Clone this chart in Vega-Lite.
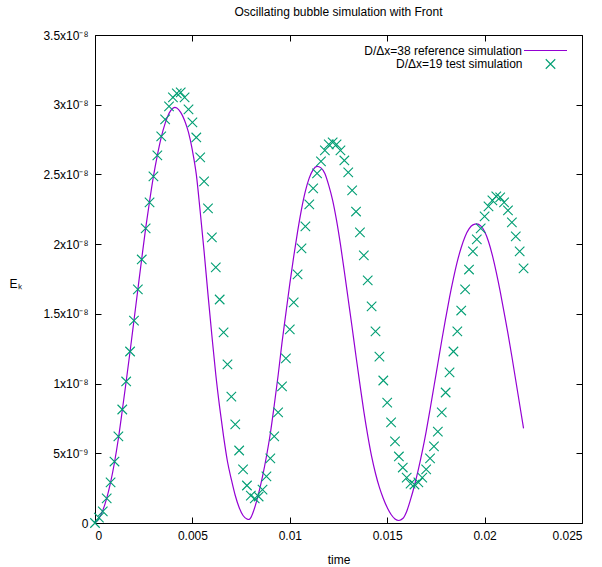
{
  "$schema": "https://vega.github.io/schema/vega-lite/v6.json",
  "width": 487,
  "height": 488,
  "autosize": {"type": "none"},
  "padding": {"left": 95, "top": 35, "right": 20, "bottom": 44},
  "background": "white",
  "title": {"text": "Oscillating bubble simulation with Front", "fontSize": 12, "fontWeight": "normal", "font": "Liberation Sans", "color": "black", "offset": 9, "anchor": "middle"},
  "config": {
    "view": {"stroke": "black", "strokeWidth": 1},
    "font": "Liberation Sans",
    "axis": {"domain": false, "grid": false, "tickColor": "black", "tickWidth": 1, "tickSize": -6, "labelFont": "Liberation Sans", "labelFontSize": 12, "labelColor": "black", "titleFont": "Liberation Sans", "titleFontSize": 12, "titleFontWeight": "normal", "titleColor": "black"},
    "legend": {"labelFont": "Liberation Sans", "labelFontSize": 12, "labelColor": "black", "padding": 0}
  },
  "datasets": {
    "reference": [
      {"time": 0, "Ek": 0},
      {"time": 0.0002, "Ek": 0.032e-8},
      {"time": 0.0004, "Ek": 0.090e-8},
      {"time": 0.0006, "Ek": 0.176e-8},
      {"time": 0.0008, "Ek": 0.291e-8},
      {"time": 0.0010, "Ek": 0.434e-8},
      {"time": 0.0012, "Ek": 0.606e-8},
      {"time": 0.0014, "Ek": 0.807e-8},
      {"time": 0.0016, "Ek": 1.015e-8},
      {"time": 0.0018, "Ek": 1.230e-8},
      {"time": 0.0020, "Ek": 1.452e-8},
      {"time": 0.0022, "Ek": 1.675e-8},
      {"time": 0.0024, "Ek": 1.897e-8},
      {"time": 0.0026, "Ek": 2.113e-8},
      {"time": 0.0028, "Ek": 2.306e-8},
      {"time": 0.0030, "Ek": 2.486e-8},
      {"time": 0.0032, "Ek": 2.637e-8},
      {"time": 0.0034, "Ek": 2.766e-8},
      {"time": 0.0036, "Ek": 2.866e-8},
      {"time": 0.0038, "Ek": 2.938e-8},
      {"time": 0.0040, "Ek": 2.974e-8},
      {"time": 0.0041, "Ek": 2.981e-8},
      {"time": 0.0042, "Ek": 2.977e-8},
      {"time": 0.0044, "Ek": 2.945e-8},
      {"time": 0.0046, "Ek": 2.887e-8},
      {"time": 0.0048, "Ek": 2.801e-8},
      {"time": 0.0050, "Ek": 2.672e-8},
      {"time": 0.0052, "Ek": 2.500e-8},
      {"time": 0.0054, "Ek": 2.234e-8},
      {"time": 0.0056, "Ek": 1.948e-8},
      {"time": 0.0058, "Ek": 1.640e-8},
      {"time": 0.0060, "Ek": 1.345e-8},
      {"time": 0.0062, "Ek": 1.065e-8},
      {"time": 0.0064, "Ek": 0.829e-8},
      {"time": 0.0066, "Ek": 0.621e-8},
      {"time": 0.0068, "Ek": 0.441e-8},
      {"time": 0.0070, "Ek": 0.312e-8},
      {"time": 0.0072, "Ek": 0.197e-8},
      {"time": 0.0074, "Ek": 0.111e-8},
      {"time": 0.0076, "Ek": 0.054e-8},
      {"time": 0.0078, "Ek": 0.029e-8},
      {"time": 0.0079, "Ek": 0.025e-8},
      {"time": 0.0080, "Ek": 0.039e-8},
      {"time": 0.0082, "Ek": 0.111e-8},
      {"time": 0.0084, "Ek": 0.212e-8},
      {"time": 0.0086, "Ek": 0.334e-8},
      {"time": 0.0088, "Ek": 0.477e-8},
      {"time": 0.0090, "Ek": 0.642e-8},
      {"time": 0.0092, "Ek": 0.843e-8},
      {"time": 0.0094, "Ek": 1.058e-8},
      {"time": 0.0096, "Ek": 1.294e-8},
      {"time": 0.0098, "Ek": 1.505e-8},
      {"time": 0.0100, "Ek": 1.715e-8},
      {"time": 0.0102, "Ek": 1.910e-8},
      {"time": 0.0104, "Ek": 2.090e-8},
      {"time": 0.0106, "Ek": 2.250e-8},
      {"time": 0.0108, "Ek": 2.380e-8},
      {"time": 0.0110, "Ek": 2.475e-8},
      {"time": 0.0112, "Ek": 2.535e-8},
      {"time": 0.0114, "Ek": 2.558e-8},
      {"time": 0.0116, "Ek": 2.547e-8},
      {"time": 0.0118, "Ek": 2.507e-8},
      {"time": 0.0120, "Ek": 2.421e-8},
      {"time": 0.0122, "Ek": 2.314e-8},
      {"time": 0.0124, "Ek": 2.170e-8},
      {"time": 0.0126, "Ek": 1.998e-8},
      {"time": 0.0128, "Ek": 1.804e-8},
      {"time": 0.0130, "Ek": 1.603e-8},
      {"time": 0.0132, "Ek": 1.402e-8},
      {"time": 0.0134, "Ek": 1.194e-8},
      {"time": 0.0136, "Ek": 0.994e-8},
      {"time": 0.0138, "Ek": 0.800e-8},
      {"time": 0.0140, "Ek": 0.628e-8},
      {"time": 0.0142, "Ek": 0.477e-8},
      {"time": 0.0144, "Ek": 0.355e-8},
      {"time": 0.0146, "Ek": 0.255e-8},
      {"time": 0.0148, "Ek": 0.176e-8},
      {"time": 0.0150, "Ek": 0.111e-8},
      {"time": 0.0152, "Ek": 0.061e-8},
      {"time": 0.0154, "Ek": 0.029e-8},
      {"time": 0.0156, "Ek": 0.018e-8},
      {"time": 0.0158, "Ek": 0.032e-8},
      {"time": 0.0160, "Ek": 0.083e-8},
      {"time": 0.0162, "Ek": 0.169e-8},
      {"time": 0.0164, "Ek": 0.269e-8},
      {"time": 0.0166, "Ek": 0.384e-8},
      {"time": 0.0168, "Ek": 0.513e-8},
      {"time": 0.0170, "Ek": 0.656e-8},
      {"time": 0.0172, "Ek": 0.814e-8},
      {"time": 0.0174, "Ek": 0.979e-8},
      {"time": 0.0176, "Ek": 1.144e-8},
      {"time": 0.0178, "Ek": 1.309e-8},
      {"time": 0.0180, "Ek": 1.467e-8},
      {"time": 0.0182, "Ek": 1.618e-8},
      {"time": 0.0184, "Ek": 1.754e-8},
      {"time": 0.0186, "Ek": 1.876e-8},
      {"time": 0.0188, "Ek": 1.976e-8},
      {"time": 0.0190, "Ek": 2.055e-8},
      {"time": 0.0192, "Ek": 2.109e-8},
      {"time": 0.0194, "Ek": 2.138e-8},
      {"time": 0.0196, "Ek": 2.145e-8},
      {"time": 0.0198, "Ek": 2.131e-8},
      {"time": 0.0200, "Ek": 2.091e-8},
      {"time": 0.0202, "Ek": 2.019e-8},
      {"time": 0.0204, "Ek": 1.919e-8},
      {"time": 0.0206, "Ek": 1.797e-8},
      {"time": 0.0208, "Ek": 1.661e-8},
      {"time": 0.0210, "Ek": 1.510e-8},
      {"time": 0.0212, "Ek": 1.359e-8},
      {"time": 0.0214, "Ek": 1.194e-8},
      {"time": 0.0216, "Ek": 1.022e-8},
      {"time": 0.0218, "Ek": 0.850e-8},
      {"time": 0.0220, "Ek": 0.678e-8}
    ],
    "test": [
      {"time": 0, "Ek": 0},
      {"time": 0.0002, "Ek": 0.039e-8},
      {"time": 0.0004, "Ek": 0.083e-8},
      {"time": 0.0006, "Ek": 0.176e-8},
      {"time": 0.0008, "Ek": 0.291e-8},
      {"time": 0.0010, "Ek": 0.441e-8},
      {"time": 0.0012, "Ek": 0.621e-8},
      {"time": 0.0014, "Ek": 0.814e-8},
      {"time": 0.0016, "Ek": 1.015e-8},
      {"time": 0.0018, "Ek": 1.230e-8},
      {"time": 0.0020, "Ek": 1.452e-8},
      {"time": 0.0022, "Ek": 1.675e-8},
      {"time": 0.0024, "Ek": 1.890e-8},
      {"time": 0.0026, "Ek": 2.113e-8},
      {"time": 0.0028, "Ek": 2.299e-8},
      {"time": 0.0030, "Ek": 2.486e-8},
      {"time": 0.0032, "Ek": 2.637e-8},
      {"time": 0.0034, "Ek": 2.773e-8},
      {"time": 0.0036, "Ek": 2.895e-8},
      {"time": 0.0038, "Ek": 2.988e-8},
      {"time": 0.0040, "Ek": 3.052e-8},
      {"time": 0.0042, "Ek": 3.081e-8},
      {"time": 0.0044, "Ek": 3.088e-8},
      {"time": 0.0046, "Ek": 3.052e-8},
      {"time": 0.0048, "Ek": 2.966e-8},
      {"time": 0.0050, "Ek": 2.873e-8},
      {"time": 0.0052, "Ek": 2.765e-8},
      {"time": 0.0054, "Ek": 2.622e-8},
      {"time": 0.0056, "Ek": 2.450e-8},
      {"time": 0.0058, "Ek": 2.256e-8},
      {"time": 0.0060, "Ek": 2.048e-8},
      {"time": 0.0062, "Ek": 1.833e-8},
      {"time": 0.0064, "Ek": 1.603e-8},
      {"time": 0.0066, "Ek": 1.367e-8},
      {"time": 0.0068, "Ek": 1.137e-8},
      {"time": 0.0070, "Ek": 0.907e-8},
      {"time": 0.0072, "Ek": 0.707e-8},
      {"time": 0.0074, "Ek": 0.520e-8},
      {"time": 0.0076, "Ek": 0.384e-8},
      {"time": 0.0078, "Ek": 0.269e-8},
      {"time": 0.0080, "Ek": 0.197e-8},
      {"time": 0.0082, "Ek": 0.176e-8},
      {"time": 0.0084, "Ek": 0.190e-8},
      {"time": 0.0086, "Ek": 0.240e-8},
      {"time": 0.0088, "Ek": 0.334e-8},
      {"time": 0.0090, "Ek": 0.463e-8},
      {"time": 0.0092, "Ek": 0.621e-8},
      {"time": 0.0094, "Ek": 0.793e-8},
      {"time": 0.0096, "Ek": 0.980e-8},
      {"time": 0.0098, "Ek": 1.180e-8},
      {"time": 0.0100, "Ek": 1.388e-8},
      {"time": 0.0102, "Ek": 1.582e-8},
      {"time": 0.0104, "Ek": 1.783e-8},
      {"time": 0.0106, "Ek": 1.969e-8},
      {"time": 0.0108, "Ek": 2.127e-8},
      {"time": 0.0110, "Ek": 2.285e-8},
      {"time": 0.0112, "Ek": 2.400e-8},
      {"time": 0.0114, "Ek": 2.507e-8},
      {"time": 0.0116, "Ek": 2.593e-8},
      {"time": 0.0118, "Ek": 2.672e-8},
      {"time": 0.0120, "Ek": 2.715e-8},
      {"time": 0.0122, "Ek": 2.730e-8},
      {"time": 0.0124, "Ek": 2.715e-8},
      {"time": 0.0126, "Ek": 2.672e-8},
      {"time": 0.0128, "Ek": 2.600e-8},
      {"time": 0.0130, "Ek": 2.514e-8},
      {"time": 0.0132, "Ek": 2.385e-8},
      {"time": 0.0134, "Ek": 2.234e-8},
      {"time": 0.0136, "Ek": 2.084e-8},
      {"time": 0.0138, "Ek": 1.919e-8},
      {"time": 0.0140, "Ek": 1.740e-8},
      {"time": 0.0142, "Ek": 1.553e-8},
      {"time": 0.0144, "Ek": 1.374e-8},
      {"time": 0.0146, "Ek": 1.194e-8},
      {"time": 0.0148, "Ek": 1.022e-8},
      {"time": 0.0150, "Ek": 0.864e-8},
      {"time": 0.0152, "Ek": 0.721e-8},
      {"time": 0.0154, "Ek": 0.585e-8},
      {"time": 0.0156, "Ek": 0.477e-8},
      {"time": 0.0158, "Ek": 0.398e-8},
      {"time": 0.0160, "Ek": 0.326e-8},
      {"time": 0.0162, "Ek": 0.283e-8},
      {"time": 0.0164, "Ek": 0.276e-8},
      {"time": 0.0166, "Ek": 0.291e-8},
      {"time": 0.0168, "Ek": 0.326e-8},
      {"time": 0.0170, "Ek": 0.384e-8},
      {"time": 0.0172, "Ek": 0.463e-8},
      {"time": 0.0174, "Ek": 0.549e-8},
      {"time": 0.0176, "Ek": 0.656e-8},
      {"time": 0.0178, "Ek": 0.793e-8},
      {"time": 0.0180, "Ek": 0.936e-8},
      {"time": 0.0182, "Ek": 1.080e-8},
      {"time": 0.0184, "Ek": 1.230e-8},
      {"time": 0.0186, "Ek": 1.374e-8},
      {"time": 0.0188, "Ek": 1.524e-8},
      {"time": 0.0190, "Ek": 1.675e-8},
      {"time": 0.0192, "Ek": 1.818e-8},
      {"time": 0.0194, "Ek": 1.948e-8},
      {"time": 0.0196, "Ek": 2.034e-8},
      {"time": 0.0198, "Ek": 2.113e-8},
      {"time": 0.0200, "Ek": 2.199e-8},
      {"time": 0.0202, "Ek": 2.271e-8},
      {"time": 0.0204, "Ek": 2.314e-8},
      {"time": 0.0206, "Ek": 2.342e-8},
      {"time": 0.0208, "Ek": 2.335e-8},
      {"time": 0.0210, "Ek": 2.299e-8},
      {"time": 0.0212, "Ek": 2.242e-8},
      {"time": 0.0214, "Ek": 2.156e-8},
      {"time": 0.0216, "Ek": 2.055e-8},
      {"time": 0.0218, "Ek": 1.948e-8},
      {"time": 0.0220, "Ek": 1.826e-8}
    ]
  },
  "layer": [
    {
      "data": {"name": "reference"},
      "mark": {"type": "line", "strokeWidth": 1.2, "interpolate": "monotone"},
      "encoding": {
        "x": {"field": "time", "type": "quantitative", "scale": {"domain": [0, 0.025], "nice": false, "zero": false},
          "axis": {"orient": "bottom", "values": [0, 0.005, 0.01, 0.015, 0.02, 0.025], "format": "~g", "labelPadding": 13, "title": "time", "titleY": 36, "titleBaseline": "middle"}},
        "y": {"field": "Ek", "type": "quantitative", "scale": {"domain": [0, 3.5e-8], "nice": false},
          "axis": {"orient": "left", "values": [0, 5e-9, 1e-8, 1.5e-8, 2e-8, 2.5e-8, 3e-8, 3.5e-8], "labelPadding": 13, "labelExpr": "datum.value == 0 ? '0' : (abs(datum.value - 5e-9) < 1e-12 ? '5x10⁻⁹' : format(datum.value * 1e8, '.2~f') + 'x10⁻⁸')", "title": "Eₖ", "titleAngle": 0, "titleX": -80, "titleY": 248, "titleAlign": "center", "titleBaseline": "middle"}},
        "color": {"datum": "D/Δx=38 reference simulation", "type": "nominal", "scale": {"range": ["#9400d3"]},
          "legend": {"orient": "none", "legendX": 428, "legendY": -7, "title": null, "symbolType": "stroke", "symbolSize": 1849, "symbolStrokeWidth": 1.2, "labelAlign": "right", "labelOffset": -46, "padding": 0}}
      }
    },
    {
      "data": {"name": "test"},
      "mark": {"type": "point", "shape": "M-1,-1L1,1M-1,1L1,-1", "size": 90, "strokeWidth": 1.1, "filled": false, "opacity": 1, "stroke": "#009e73", "color": "#009e73"},
      "encoding": {
        "x": {"field": "time", "type": "quantitative",
          "axis": {"orient": "top", "values": [0, 0.005, 0.01, 0.015, 0.02, 0.025], "labels": false, "title": null}},
        "y": {"field": "Ek", "type": "quantitative",
          "axis": {"orient": "right", "values": [0, 5e-9, 1e-8, 1.5e-8, 2e-8, 2.5e-8, 3e-8, 3.5e-8], "labels": false, "title": null}},
        "stroke": {"datum": "D/Δx=19 test simulation", "type": "nominal", "scale": {"range": ["#009e73"]},
          "legend": {"orient": "none", "legendX": 449.5, "legendY": 23, "title": null, "symbolType": "M-1,-1L1,1M-1,1L1,-1", "symbolSize": 90, "symbolStrokeWidth": 1.1, "labelAlign": "right", "labelOffset": -34, "padding": 0}}
      }
    }
  ],
  "resolve": {"axis": {"x": "independent", "y": "independent"}}
}
